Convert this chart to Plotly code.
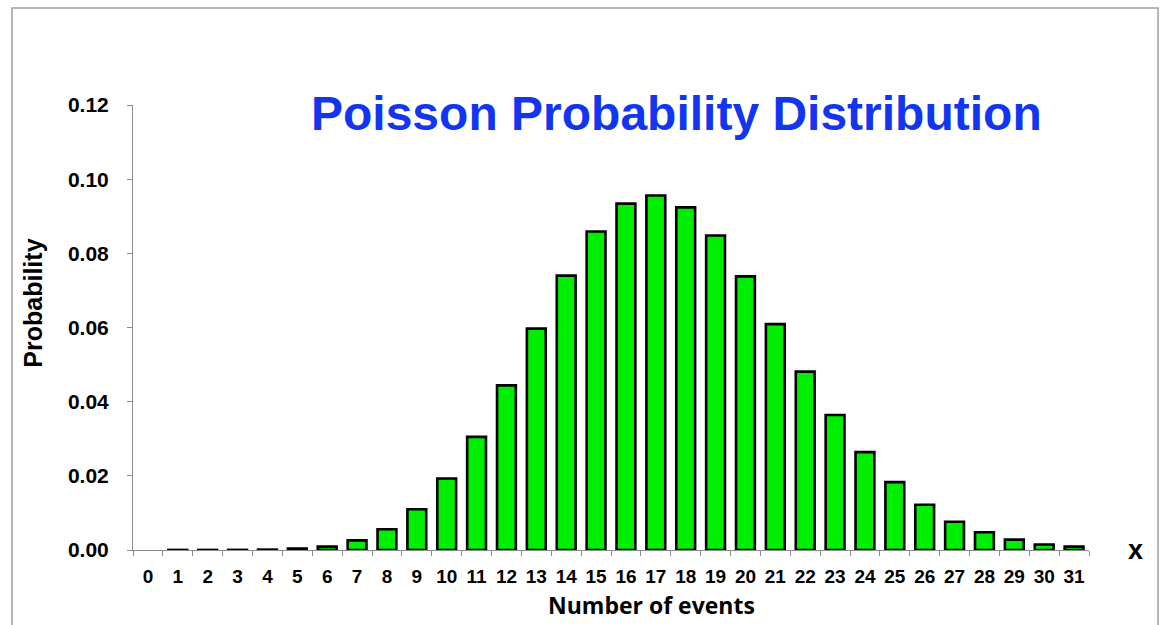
import plotly.graph_objects as go

# Number of events (x) and the probability of each count
events = list(range(32))
probability = [
    0.0, 0.00001, 0.00001, 0.00003, 0.0001, 0.0004, 0.0009, 0.0026,
    0.0056, 0.0110, 0.0193, 0.0305, 0.0444, 0.0597, 0.0740, 0.0859,
    0.0934, 0.0956, 0.0924, 0.0848, 0.0738, 0.0609, 0.0481, 0.0364,
    0.0264, 0.0183, 0.0122, 0.0076, 0.0048, 0.0028, 0.0015, 0.0009,
]
y_ticks = [0.00, 0.02, 0.04, 0.06, 0.08, 0.10, 0.12]
y_tick_text = ["0.00", "0.02", "0.04", "0.06", "0.08", "0.10", "0.12"]

FONT = "Liberation Sans, Arial, sans-serif"
AXIS_GREY = "#8c8c8c"

# no outline on empty bars so a zero count leaves no mark
outline_widths = [0 if p == 0 else 2.6 for p in probability]

fig = go.Figure(
    go.Bar(
        x=[str(e) for e in events],
        y=probability,
        marker=dict(color="#00ee00", line=dict(color="black", width=outline_widths)),
        hoverinfo="x+y",
    )
)

fig.update_layout(
    width=1160,
    height=625,
    margin=dict(l=133, r=71, t=105, b=75),
    paper_bgcolor="white",
    plot_bgcolor="white",
    showlegend=False,
    bargap=0.37,
    xaxis=dict(
        type="category",
        range=[-0.5, 31.5],
        tickson="boundaries",
        ticks="outside",
        ticklen=5,
        tickcolor=AXIS_GREY,
        tickwidth=1,
        tickangle=0,
        showline=True,
        linecolor=AXIS_GREY,
        linewidth=1,
        showgrid=False,
        zeroline=False,
        ticklabelstandoff=9,
        tickfont=dict(family=FONT, size=19, color="black", weight="bold"),
    ),
    # second x axis draws the inner half of each crossing tick
    xaxis2=dict(
        overlaying="x",
        anchor="y",
        range=[-0.5, 31.5],
        tick0=-0.5,
        dtick=1,
        ticks="inside",
        ticklen=5,
        tickcolor=AXIS_GREY,
        tickwidth=1,
        showticklabels=False,
        showline=False,
        showgrid=False,
        zeroline=False,
    ),
    yaxis=dict(
        range=[0, 0.12],
        tickvals=y_ticks,
        ticktext=y_tick_text,
        ticks="outside",
        ticklen=5,
        tickcolor=AXIS_GREY,
        tickwidth=1,
        showline=True,
        linecolor=AXIS_GREY,
        linewidth=1,
        showgrid=False,
        zeroline=False,
        ticklabelstandoff=14,
        tickfont=dict(family=FONT, size=21, color="black", weight="bold"),
    ),
    # second y axis draws the inner half of each crossing tick
    yaxis2=dict(
        overlaying="y",
        anchor="x",
        range=[0, 0.12],
        tickvals=y_ticks,
        ticks="inside",
        ticklen=5,
        tickcolor=AXIS_GREY,
        tickwidth=1,
        showticklabels=False,
        showline=False,
        showgrid=False,
        zeroline=False,
    ),
)

# outer frame around the whole chart
fig.add_shape(
    type="rect", xref="paper", yref="paper",
    x0=-0.1266, x1=1.0722, y0=-0.25, y1=1.218,
    line=dict(color="#a0a0a0", width=1.5), layer="below",
)

fig.add_annotation(
    text="Poisson Probability Distribution",
    xref="paper", yref="paper", x=0.568, y=0.982,
    xanchor="center", yanchor="middle", showarrow=False,
    font=dict(family=FONT, size=48, color="#1236f0", weight="bold"),
)
fig.add_annotation(
    text="Probability",
    xref="paper", yref="paper", x=-0.105, y=0.555,
    xanchor="center", yanchor="middle", showarrow=False, textangle=-90,
    font=dict(family=FONT, size=25, color="black", weight="bold"),
)
fig.add_annotation(
    text="Number of events",
    xref="paper", yref="paper", x=0.542, y=-0.123,
    xanchor="center", yanchor="middle", showarrow=False,
    font=dict(family="Open Sans, sans-serif", size=23, color="black", weight="bold"),
)
fig.add_annotation(
    text="x",
    xref="paper", yref="paper", x=1.049, y=0.0,
    xanchor="center", yanchor="middle", showarrow=False,
    font=dict(family=FONT, size=27, color="black", weight="bold"),
)

fig.write_html("out.html")
